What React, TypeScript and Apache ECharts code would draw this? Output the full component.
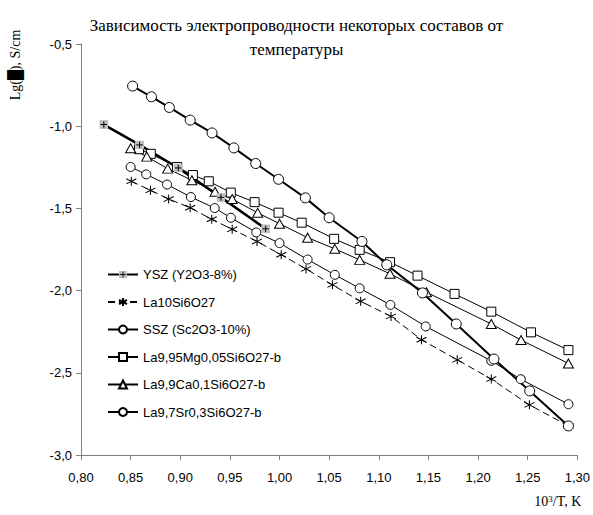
import React, { useEffect, useRef } from "react";
import * as echarts from "echarts";

const seriesNames = [
  "YSZ (Y2O3-8%)",
  "La10Si6O27",
  "SSZ (Sc2O3-10%)",
  "La9,95Mg0,05Si6O27-b",
  "La9,9Ca0,1Si6O27-b",
  "La9,7Sr0,3Si6O27-b",
];

const yszX = [0.823, 0.859, 0.898, 0.941, 0.986];
const yszY = [-0.99, -1.114, -1.254, -1.433, -1.624];

const la10X = [0.8507, 0.87, 0.8883, 0.91, 0.9317, 0.9523, 0.9773, 1.0017, 1.0267, 1.0533, 1.0817, 1.1123, 1.143, 1.179, 1.2133, 1.2517, 1.291];
const la10Y = [-1.335, -1.39, -1.443, -1.496, -1.566, -1.627, -1.701, -1.782, -1.868, -1.965, -2.065, -2.157, -2.299, -2.421, -2.538, -2.695, -2.823];

const sszX = [0.852, 0.871, 0.889, 0.91, 0.932, 0.954, 0.976, 0.999, 1.026, 1.05, 1.083, 1.108, 1.144, 1.178, 1.216, 1.252, 1.291];
const sszY = [-0.756, -0.821, -0.886, -0.963, -1.041, -1.132, -1.227, -1.323, -1.436, -1.557, -1.701, -1.843, -2.014, -2.203, -2.416, -2.61, -2.823];

const mgX = [0.8585, 0.8703, 0.8968, 0.9127, 0.9287, 0.9509, 0.9749, 0.999, 1.0223, 1.055, 1.0807, 1.1113, 1.139, 1.1763, 1.2133, 1.2533, 1.291];
const mgY = [-1.14, -1.168, -1.248, -1.297, -1.335, -1.404, -1.462, -1.526, -1.587, -1.685, -1.752, -1.827, -1.909, -2.02, -2.128, -2.254, -2.362];

const caX = [0.85, 0.8663, 0.8873, 0.9117, 0.935, 0.9523, 0.978, 1.0, 1.0283, 1.0557, 1.0807, 1.1113, 1.148, 1.2133, 1.2433, 1.291];
const caY = [-1.134, -1.185, -1.258, -1.329, -1.399, -1.443, -1.527, -1.593, -1.678, -1.746, -1.813, -1.898, -2.01, -2.203, -2.301, -2.443];

const srX = [0.85, 0.8657, 0.8867, 0.9107, 0.9347, 0.951, 0.9765, 1.0, 1.0283, 1.0557, 1.0807, 1.1117, 1.1473, 1.2133, 1.243, 1.291];
const srY = [-1.248, -1.293, -1.355, -1.431, -1.498, -1.557, -1.646, -1.711, -1.811, -1.904, -1.986, -2.087, -2.218, -2.427, -2.539, -2.691];

const titleText = "Зависимость электропроводности некоторых составов от\nтемпературы";
const yAxisTitle = "Lg(█), S/cm";

const zip = (xs: number[], ys: number[]) => xs.map((x, i) => [x, ys[i]]);

const yszSvg =
  "<svg xmlns='http://www.w3.org/2000/svg' width='9' height='9' viewBox='0 0 9 9'>" +
  "<rect width='9' height='9' fill='#c0c0c0'/>" +
  "<path d='M4.5 1.2V7.8M1.2 4.5H7.8' stroke='#000' stroke-width='1'/></svg>";
const yszSymbol = "image://data:image/svg+xml;charset=utf-8," + encodeURIComponent(yszSvg);
const starSymbol = "path://M5,0L5,10M0.4,2.2L9.6,7.8M0.4,7.8L9.6,2.2";

export default function App() {
  const ref = useRef<HTMLDivElement>(null);
  useEffect(() => {
    if (!ref.current) return;
    const chart = echarts.init(ref.current, undefined, { renderer: "svg" });
    const base = (name: string, data: number[][], extra: any) => ({
      name,
      type: "line",
      data,
      symbolSize: 9,
      showSymbol: true,
      itemStyle: { color: "#fff", borderColor: "#000", borderWidth: 1 },
      lineStyle: { color: "#000", width: 1 },
      emphasis: { disabled: true },
      ...extra,
    });
    chart.setOption({
      animation: false,
      backgroundColor: "#fff",
      title: {
        text: titleText,
        left: "center",
        top: 8,
        textStyle: {
          fontFamily: "Liberation Serif",
          fontSize: 17,
          fontWeight: "normal",
          color: "#000",
          lineHeight: 24,
        },
      },
      grid: { left: 81, right: 13, top: 44, bottom: 60, containLabel: false },
      legend: {
        orient: "vertical",
        left: 102,
        top: 263,
        itemWidth: 30,
        itemHeight: 10,
        itemGap: 14.5,
        data: seriesNames,
        textStyle: { fontFamily: "Liberation Sans", fontSize: 13, color: "#000" },
        selectedMode: false,
      },
      xAxis: {
        type: "value",
        min: 0.8,
        max: 1.3,
        interval: 0.05,
        name: "10{sup|3}/T, K",
        nameLocation: "end",
        nameGap: -43,
        nameTextStyle: {
          fontFamily: "Liberation Serif",
          fontSize: 14,
          color: "#000",
          align: "left",
          verticalAlign: "top",
          padding: [39, 0, 0, 0],
          rich: {
            sup: { fontFamily: "Liberation Serif", fontSize: 9, verticalAlign: "top", padding: [0, 0, 6, 0] },
          },
        },
        axisLine: { show: true, onZero: false, lineStyle: { color: "#808080", width: 1 } },
        axisTick: { show: true, length: 5, lineStyle: { color: "#808080" } },
        splitLine: { show: false },
        axisLabel: {
          margin: 16,
          fontFamily: "Liberation Sans",
          fontSize: 13,
          color: "#000",
          formatter: (v: number) => v.toFixed(2).replace(".", ","),
        },
      },
      yAxis: {
        type: "value",
        min: -3,
        max: -0.5,
        interval: 0.5,
        axisLine: { show: true, onZero: false, lineStyle: { color: "#808080", width: 1 } },
        axisTick: { show: true, length: 5, lineStyle: { color: "#808080" } },
        splitLine: { show: false },
        axisLabel: {
          margin: 9,
          fontFamily: "Liberation Sans",
          fontSize: 13,
          color: "#000",
          formatter: (v: number) => v.toFixed(1).replace(".", ","),
        },
      },
      graphic: [
        {
          type: "text",
          x: 15,
          y: 65,
          rotation: Math.PI / 2,
          style: {
            text: yAxisTitle,
            fontFamily: "Liberation Serif",
            fontSize: 14,
            fill: "#000",
            align: "center",
            verticalAlign: "middle",
          },
        },
      ],
      series: [
        base(seriesNames[3], zip(mgX, mgY), { symbol: "rect", symbolSize: 9 }),
        base(seriesNames[4], zip(caX, caY), { symbol: "triangle", symbolSize: [10, 9] }),
        base(seriesNames[5], zip(srX, srY), { symbol: "circle", symbolSize: 9 }),
        base(seriesNames[1], zip(la10X, la10Y), {
          symbol: starSymbol,
          symbolSize: [10, 9],
          itemStyle: { color: "none", borderColor: "#000", borderWidth: 1 },
          lineStyle: { color: "#000", width: 1, type: [7, 4] },
        }),
        base(seriesNames[2], zip(sszX, sszY), {
          symbol: "circle",
          symbolSize: 10,
          lineStyle: { color: "#000", width: 2 },
        }),
        base(seriesNames[0], zip(yszX, yszY), {
          symbol: yszSymbol,
          symbolSize: 9,
          lineStyle: { color: "#000", width: 2.5 },
        }),
      ],
    });
    return () => chart.dispose();
  }, []);
  return (
    <div
      ref={ref}
      style={{ position: "fixed", left: 0, top: 0, width: 593, height: 515, background: "#fff" }}
    />
  );
}
